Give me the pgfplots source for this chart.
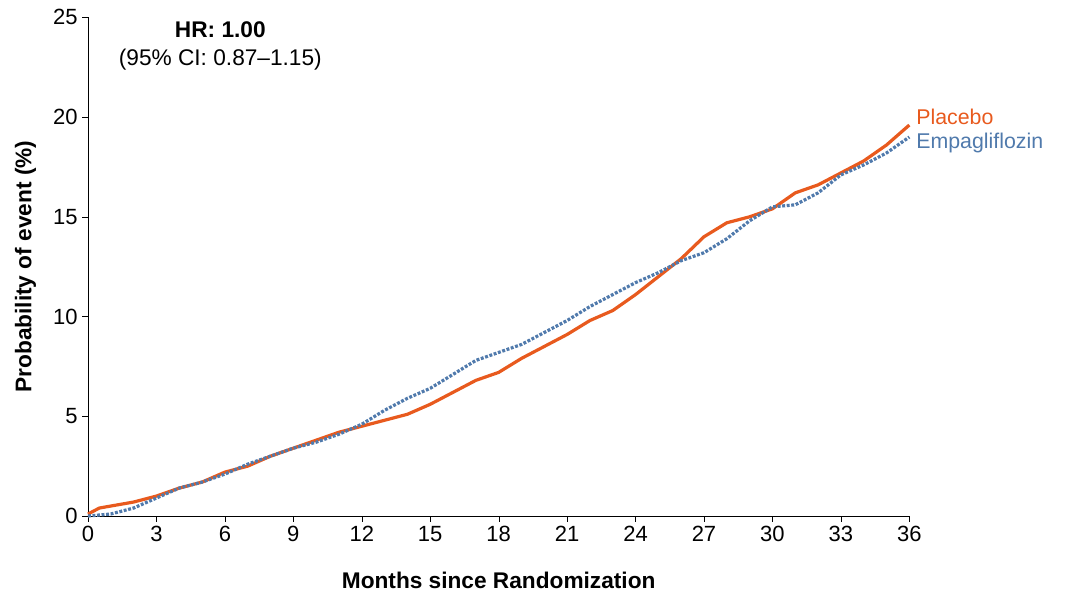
\documentclass[border=0pt]{standalone}
\usepackage{pgfplots}
\pgfplotsset{compat=1.18}
\usepackage{fontspec}
\setmainfont{Liberation Sans}
\definecolor{plc}{RGB}{232,90,30}
\definecolor{emp}{RGB}{80,122,172}
\begin{document}
\begin{tikzpicture}
\useasboundingbox (-66pt,-63.75pt) rectangle (735pt,387pt);
\begin{axis}[at={(0,0)},anchor=south west,scale only axis,width=616pt,height=374pt,
 xmin=0,xmax=36,ymin=0,ymax=25,axis lines=left,axis line style={-},
 xtick={0,3,...,36},ytick={0,5,...,25},tick align=outside,
 tick style={black},ticklabel style={font=\fontsize{16.5}{18}\selectfont},
 /pgf/number format/assume math mode=true,
 xlabel={\textbf{Months since Randomization}},ylabel={\textbf{Probability of event (\%)}},
 label style={font=\fontsize{17}{19}\selectfont},
 xlabel style={yshift=-16pt},ylabel style={yshift=6pt},clip=false]
\addplot[plc,line width=2.4pt] coordinates {(0,0.1)(0.5,0.4)(1,0.5)(2,0.7)(3,1.0)(4,1.4)(5,1.7)(6,2.2)(7,2.5)(8,3.0)(9,3.4)(10,3.8)(11,4.2)(12,4.5)(13,4.8)(14,5.1)(15,5.6)(16,6.2)(17,6.8)(18,7.2)(19,7.9)(20,8.5)(21,9.1)(22,9.8)(23,10.3)(24,11.1)(25,12.0)(26,12.9)(27,14.0)(28,14.7)(29,15.0)(30,15.4)(31,16.2)(32,16.6)(33,17.2)(34,17.8)(35,18.6)(36,19.6)};
\addplot[emp,line width=2.4pt,dash pattern=on 2.2pt off 1.2pt] coordinates {(0,0)(1,0.1)(2,0.4)(3,0.9)(4,1.4)(5,1.7)(6,2.1)(7,2.6)(8,3.0)(9,3.4)(10,3.7)(11,4.1)(12,4.6)(13,5.3)(14,5.9)(15,6.4)(16,7.1)(17,7.8)(18,8.2)(19,8.6)(20,9.2)(21,9.8)(22,10.5)(23,11.1)(24,11.7)(25,12.2)(26,12.8)(27,13.2)(28,13.9)(29,14.8)(30,15.5)(31,15.6)(32,16.2)(33,17.1)(34,17.6)(35,18.2)(36,19.0)};
\node[anchor=west,text=plc,font=\fontsize{16}{18}\selectfont] at (axis cs:36.1,20.0) {Placebo};
\node[anchor=west,text=emp,font=\fontsize{16}{18}\selectfont] at (axis cs:36.1,18.7) {Empagliflozin};
\node[font=\fontsize{17}{19}\selectfont\bfseries] at (axis cs:5.8,24.4) {HR: 1.00};
\node[font=\fontsize{17}{19}\selectfont] at (axis cs:5.8,22.9) {(95\% CI: 0.87–1.15)};
\end{axis}
\end{tikzpicture}
\end{document}
